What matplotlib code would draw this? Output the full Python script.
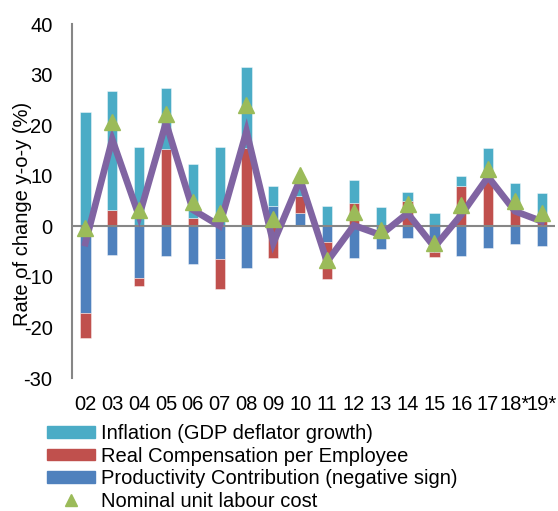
import matplotlib
matplotlib.use("Agg")
import matplotlib.pyplot as plt
import numpy as np
from matplotlib.patches import Patch
from matplotlib.lines import Line2D

plt.rcParams['font.family'] = ['Liberation Sans', 'DejaVu Sans']
plt.rcParams['axes.unicode_minus'] = False

years = ['02', '03', '04', '05', '06', '07', '08', '09', '10', '11', '12',
         '13', '14', '15', '16', '17', '18*', '19*']
productivity = [-17.2, -5.6, -10.2, -5.8, -7.4, -6.5, -8.3, 4.0, 2.6, -3.0,
                -6.3, -4.4, -2.3, -5.0, -5.8, -4.3, -3.5, -3.9]
real_comp = [-4.8, 3.2, -1.5, 15.2, 1.6, -5.8, 15.5, -6.3, 3.4, -7.5,
             4.6, 0.0, 5.0, -1.0, 7.9, 9.8, 3.8, 1.2]
inflation = [22.6, 23.5, 15.6, 12.1, 10.7, 15.7, 16.1, 4.0, 2.1, 4.0,
             4.6, 3.8, 1.7, 2.6, 2.1, 5.7, 4.8, 5.4]
ulc = [-0.3, 20.7, 3.2, 22.2, 4.8, 2.6, 23.9, 1.5, 10.2, -6.7,
       2.9, -0.7, 4.4, -3.2, 4.2, 11.4, 5.0, 2.7]
line_vals = [-3.3, 17.2, 2.0, 20.5, 3.3, 0.1, 18.8, -3.3, 9.3, -7.0,
             0.2, -1.7, 2.6, -4.1, 2.3, 9.8, 3.0, 1.0]

c_inf = '#4BACC6'
c_rc = '#C0504D'
c_prod = '#4F81BD'
c_line = '#8064A2'
c_tri = '#9BBB59'

FS = 14.5

fig = plt.figure(figsize=(5.58, 5.11), dpi=100)
ax = fig.add_axes([0.129, 0.260, 0.866, 0.693])

x = np.arange(len(years))
w = 0.38
pos_base = np.zeros(len(years))
neg_base = np.zeros(len(years))
for vals, col in [(productivity, c_prod), (real_comp, c_rc), (inflation, c_inf)]:
    v = np.array(vals, dtype=float)
    base = np.where(v >= 0, pos_base, neg_base)
    ax.bar(x, v, w, bottom=base, color=col, edgecolor=(1, 1, 1, 0.5),
           linewidth=0.6, zorder=2)
    pos_base = pos_base + np.where(v > 0, v, 0)
    neg_base = neg_base + np.where(v < 0, v, 0)

ax.axhline(0, color='#868686', lw=1.5, zorder=3)
ax.plot(x, line_vals, color=c_line, lw=4.8, zorder=4, solid_joinstyle='miter')
ax.plot(x, ulc, linestyle='none', marker='^', markersize=11,
        color=c_tri, zorder=5)

ax.set_xlim(-0.5, len(years) - 0.5)
ax.set_ylim(-30, 40)
ax.set_yticks(range(-30, 41, 10))
ax.set_xticks(x)
ax.set_xticklabels(years)
ax.tick_params(axis='both', length=0, labelsize=FS)
ax.tick_params(axis='x', pad=12)
ax.tick_params(axis='y', pad=14)
for s in ['top', 'right', 'bottom']:
    ax.spines[s].set_visible(False)
ax.spines['left'].set_color('#868686')
ax.spines['left'].set_linewidth(1.5)

fig.text(23 / 558, 1 - 214 / 511, 'Rate of change y-o-y (%)', rotation=90,
         ha='center', va='center', fontsize=FS)

handles = [Patch(color=c_inf), Patch(color=c_rc), Patch(color=c_prod),
           Line2D([], [], linestyle='none', marker='^', color=c_tri, markersize=8)]
labels = ['Inflation (GDP deflator growth)', 'Real Compensation per Employee',
          'Productivity Contribution (negative sign)', 'Nominal unit labour cost']
fig.legend(handles, labels, loc='upper left', bbox_to_anchor=(47 / 558, 1 - 424 / 511),
           frameon=False, fontsize=FS, handlelength=2.4, handleheight=0.5,
           handletextpad=0.3, labelspacing=0.18, borderpad=0, borderaxespad=0)

fig.savefig('out.png', dpi=100)
